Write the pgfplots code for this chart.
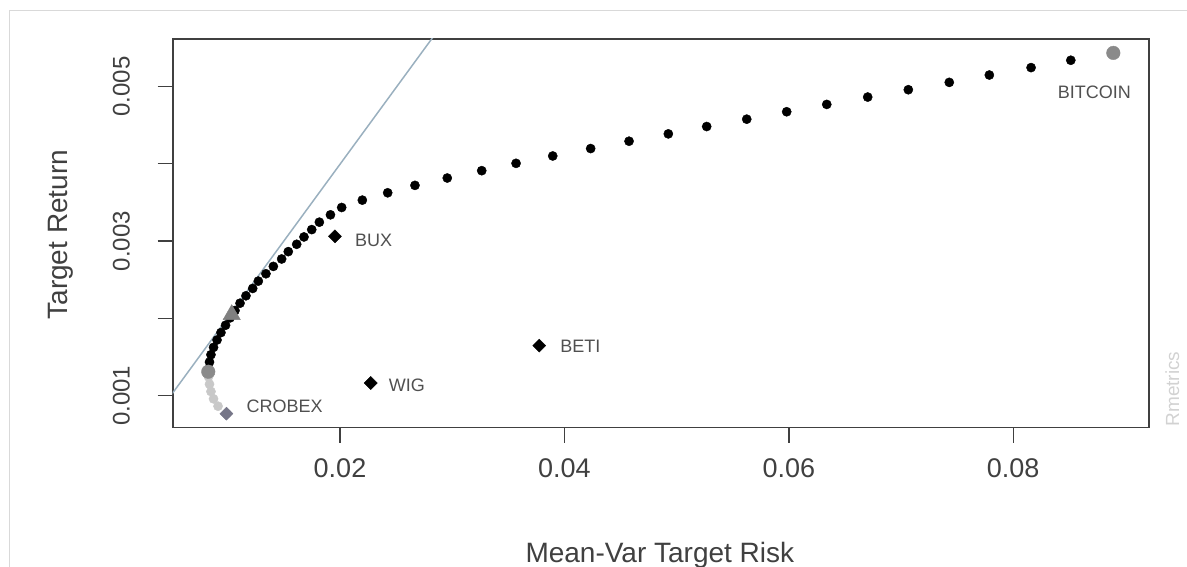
\documentclass[border=0pt]{standalone}
\usepackage{fontspec}
\setmainfont{Liberation Sans}
\usepackage{pgfplots}
\pgfplotsset{compat=1.18}
\definecolor{axgray}{HTML}{404040}
\definecolor{cmlcol}{HTML}{9AB0BF}
\definecolor{mvpgray}{HTML}{8A8A8A}
\definecolor{ineff}{HTML}{C8C8C8}
\definecolor{crobex}{HTML}{767688}
\definecolor{labgray}{HTML}{505050}
\begin{document}
\begin{tikzpicture}[x=1pt,y=1pt]
\useasboundingbox (0,0) rectangle (1187,567);
\draw[gray!30, line width=1pt] (9.5,0) -- (9.5,556) -- (1187,556);
\begin{axis}[
  at={(172.7pt,139.3pt)}, anchor=south west,
  scale only axis, width=976.3pt, height=388.7pt,
  xmin=0.00509, xmax=0.0921, ymin=0.000586, ymax=0.005613,
  scaled ticks=false,
  axis line style={draw=axgray, line width=1.6pt},
  tick style={draw=axgray, line width=1.4pt},
  tick align=outside, major tick length=15pt, tick pos=left,
  xtick={0.02,0.04,0.06,0.08}, xticklabels={0.02,0.04,0.06,0.08},
  ytick={0.001,0.002,0.003,0.004,0.005}, yticklabels={0.001,{},0.003,{},0.005},
  /pgf/number format/assume math mode=true,
  ticklabel style={text=axgray},
  xticklabel style={font=\fontsize{27}{30}\selectfont, anchor=base, yshift=-35pt},
  yticklabel style={font=\fontsize{24}{28}\selectfont, rotate=90, anchor=base, yshift=28pt},
  label style={font=\fontsize{28}{32}\selectfont, text=axgray},
  xlabel={Mean-Var Target Risk},
  ylabel={Target Return},
  xlabel style={at={(axis description cs:0.499,-0.347)}, anchor=base},
  ylabel style={at={(axis description cs:-0.108,0.4966)}, anchor=base, rotate=0},
  clip=true,
]
% capital market line
\addplot[cmlcol, line width=1.5pt] coordinates {(0,0.000025) (0.03,0.005977)};
% inefficient frontier points
\addplot[only marks, mark=*, mark size=4.6pt, mark options={draw=ineff, fill=ineff}] coordinates {
(0.00828,0.001244) (0.00837,0.001149) (0.00850,0.001054) (0.00873,0.000959) (0.00913,0.000864) (0.00990,0.000768)
};
% efficient frontier points
\addplot[only marks, mark=*, mark size=4.6pt, mark options={draw=black, fill=black}] coordinates {
(0.08513,0.005338) (0.08159,0.005243) (0.07787,0.005147) (0.07430,0.005052) (0.07065,0.004957)
(0.06703,0.004862) (0.06338,0.004767) (0.05981,0.004672) (0.05625,0.004576) (0.05268,0.004481)
(0.04926,0.004386) (0.04576,0.004291) (0.04234,0.004196) (0.03896,0.004100) (0.03569,0.004005)
(0.03263,0.003910) (0.02956,0.003815) (0.02668,0.003720) (0.02425,0.003624) (0.02199,0.003529)
(0.02015,0.003434) (0.01915,0.003339) (0.01816,0.003244) (0.01748,0.003148) (0.01679,0.003053)
(0.01614,0.002958) (0.01539,0.002863) (0.01480,0.002768) (0.01406,0.002672) (0.01340,0.002577)
(0.01272,0.002482) (0.01222,0.002387) (0.01162,0.002292) (0.01109,0.002196) (0.01064,0.002101)
(0.01020,0.002006) (0.00980,0.001911) (0.00939,0.001816) (0.00904,0.001720) (0.00873,0.001625)
(0.00850,0.001530) (0.00837,0.001435) (0.00828,0.001340)
};
% minimum variance point
\addplot[only marks, mark=*, mark size=6.8pt, mark options={draw=mvpgray, fill=mvpgray}] coordinates {(0.00826,0.001310)};
% tangency point
\addplot[only marks, mark=triangle*, mark size=10pt, mark options={draw=gray, fill=gray}] coordinates {(0.01035,0.002048)};
% single assets
\addplot[only marks, mark=square*, mark size=4.6pt, mark options={rotate=45, draw=black, fill=black}] coordinates {
(0.01955,0.003061) (0.03776,0.001647) (0.02274,0.001164)
};
\addplot[only marks, mark=square*, mark size=4.6pt, mark options={rotate=45, draw=crobex, fill=crobex}] coordinates {(0.00988,0.000767)};
\addplot[only marks, mark=*, mark size=6.8pt, mark options={draw=mvpgray, fill=mvpgray}] coordinates {(0.08892,0.005433)};
% labels
\begin{scope}[every node/.style={font=\fontsize{18}{20}\selectfont, text=labgray, inner sep=0pt}]
\node[anchor=west, xshift=20pt, yshift=-4pt] at (axis cs:0.01955,0.003061) {BUX};
\node[anchor=west, xshift=21pt, yshift=-1pt] at (axis cs:0.03776,0.001647) {BETI};
\node[anchor=west, xshift=18pt, yshift=-2pt] at (axis cs:0.02274,0.001164) {WIG};
\node[anchor=west, xshift=20pt, yshift=7pt] at (axis cs:0.00988,0.000767) {CROBEX};
\node[anchor=center, xshift=-19pt, yshift=-39pt] at (axis cs:0.08892,0.005433) {BITCOIN};
\end{scope}
\end{axis}
\node[rotate=90, anchor=base, font=\fontsize{19}{22}\selectfont, text=gray!35, inner sep=0pt] at (1179,178) {Rmetrics};
\end{tikzpicture}
\end{document}
